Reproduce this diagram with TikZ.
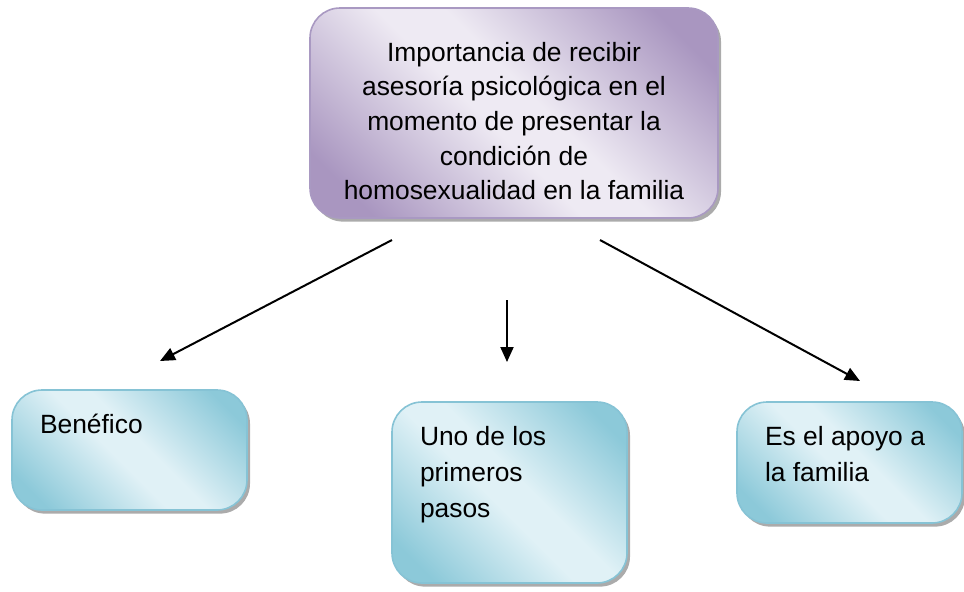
\documentclass[tikz,border=0pt]{standalone}
\usepackage{fontspec}
\setmainfont{Liberation Sans}
\usetikzlibrary{arrows.meta,shadows}

\definecolor{lilaDark}{HTML}{A996C0}
\definecolor{lilaLight}{HTML}{EEEAF3}
\definecolor{lilaLine}{HTML}{A999C2}
\definecolor{cielDark}{HTML}{8CC9D9}
\definecolor{cielLight}{HTML}{E0F1F6}
\definecolor{cielLine}{HTML}{86C3D5}

\pgfdeclareverticalshading{lilashade}{100bp}{color(0bp)=(lilaDark); color(22bp)=(lilaDark);
    color(46bp)=(lilaLight); color(54bp)=(lilaLight); color(78bp)=(lilaDark); color(100bp)=(lilaDark)}
\pgfdeclareverticalshading{cielshade}{100bp}{color(0bp)=(cielDark); color(22bp)=(cielDark);
    color(46bp)=(cielLight); color(54bp)=(cielLight); color(78bp)=(cielDark); color(100bp)=(cielDark)}

\begin{document}
\begin{tikzpicture}[x=0.5pt, y=-0.5pt,
    box/.style={rectangle, rounded corners=15pt, line width=0.8pt,
        drop shadow={shadow xshift=1.5pt, shadow yshift=-1.8pt, fill=black!55, opacity=0.6}},
    main node/.style={box, draw=lilaLine, shading=lilashade, shading angle=-45,
        minimum width=204pt, minimum height=105pt, inner sep=0pt,
        font=\fontsize{13.2}{17.3}\selectfont},
    leaf node/.style={box, draw=cielLine, shading=cielshade, shading angle=-45,
        inner xsep=14pt, inner ysep=9.5pt, font=\fontsize{13.2}{17.8}\selectfont},
    link/.style={-{Triangle[length=7.5pt, width=6.5pt]}, line width=1pt}]

    \useasboundingbox (0,0) rectangle (964,591);

    % Top box
    \node[main node] (T) at (514,113) {\parbox{190pt}{\vspace*{8pt}\centering Importancia de recibir\\ asesoría psicológica en el\\ momento de presentar la\\ condición de\\ homosexualidad en la familia}};

    % Boxes below
    \node[leaf node] (B1) at (129.5,450) {\parbox[t][41pt][t]{89.5pt}{\strut Benéfico}};
    \node[leaf node] (B2) at (509.5,492.5) {\parbox[t][71.5pt][t]{89.5pt}{\strut Uno de los\\ primeros\\ pasos}};
    \node[leaf node] (B3) at (849.5,462.5) {\parbox[t][41.5pt][t]{84.5pt}{\strut Es el apoyo a\\ la familia}};

    % Arrow ends
    \coordinate (a1) at (392,240);
    \coordinate (b1) at (160,361);
    \coordinate (a2) at (507,300);
    \coordinate (b2) at (507,362);
    \coordinate (a3) at (600,240);
    \coordinate (b3) at (860,381);

    \draw[link] (a1) -- (b1);
    \draw[link] (a2) -- (b2);
    \draw[link] (a3) -- (b3);

\end{tikzpicture}
\end{document}
